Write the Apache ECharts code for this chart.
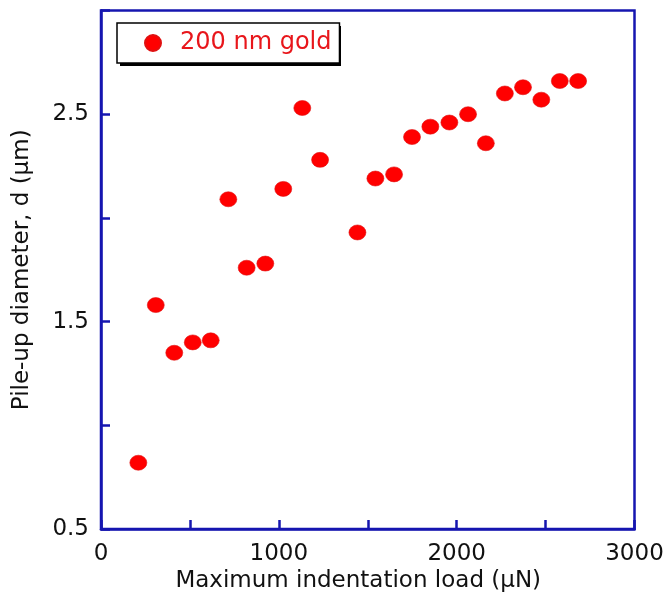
<!DOCTYPE html>
<html>
<head>
<meta charset="utf-8">
<script src="https://cdn.jsdelivr.net/npm/echarts@6/dist/echarts.min.js"></script>
<style>
  html, body { margin: 0; padding: 0; background: #fff; }
  #chart { width: 667px; height: 598px; }
</style>
</head>
<body>
<div id="chart"></div>
<script>
// Maximum indentation load (μN) for each indent
const loads = [210, 308, 412, 516, 617, 716, 819, 924, 1025, 1132, 1232,
               1442, 1543, 1648, 1749, 1852, 1959, 2064, 2164, 2271, 2373, 2476, 2580, 2683];
// Measured pile-up diameter d (μm)
const diameters = [0.82, 1.58, 1.35, 1.40, 1.41, 2.09, 1.76, 1.78, 2.14, 2.53, 2.28,
                   1.93, 2.19, 2.21, 2.39, 2.44, 2.46, 2.50, 2.36, 2.60, 2.63, 2.57, 2.66, 2.66];
const seriesName = '200 nm gold';
// Labelled ticks (other ticks drawn unlabelled)
const xLabelTicks = [0, 1000, 2000, 3000];
const yLabelTicks = [0.5, 1.5, 2.5];

const frameBlue = '#1616b0';
const fontFamily = '"DejaVu Sans", "Liberation Sans", Arial, sans-serif';

const points = loads.map((x, i) => [x, diameters[i]]);

const chart = echarts.init(document.getElementById('chart'), null, { renderer: 'canvas' });
chart.setOption({
  animation: false,
  backgroundColor: '#ffffff',
  grid: {
    left: 101, right: 32.5, top: 10.5, bottom: 68,
    show: true, borderColor: frameBlue, borderWidth: 2.5, backgroundColor: 'transparent'
  },
  // solid drop shadow behind the legend box
  graphic: [{
    type: 'rect', z: 3, silent: true,
    shape: { x: 120, y: 26, width: 221, height: 40 },
    style: { fill: '#000000' }
  }],
  legend: {
    left: 117, top: 23,
    orient: 'horizontal',
    padding: [8, 8, 8, 27],
    itemWidth: 16, itemHeight: 16,
    icon: 'circle',
    backgroundColor: '#ffffff',
    borderColor: '#000000', borderWidth: 1.5, borderRadius: 0,
    textStyle: { color: '#e8161b', fontSize: 24, fontFamily: fontFamily, padding: [0, 0, 0, 14] },
    data: [seriesName]
  },
  xAxis: {
    type: 'value', min: 0, max: 3000, interval: 500,
    name: 'Maximum indentation load (μN)',
    nameLocation: 'middle', nameGap: 40,
    nameTextStyle: { color: '#111', fontSize: 23, fontFamily: fontFamily, padding: [0, 19, 0, 0] },
    axisLine: { show: true, lineStyle: { color: frameBlue, width: 2.5 } },
    axisTick: { show: true, inside: true, length: 9, lineStyle: { color: frameBlue, width: 2.5 } },
    splitLine: { show: false },
    axisLabel: {
      color: '#111', fontSize: 23, fontFamily: fontFamily, margin: 13,
      formatter: v => xLabelTicks.some(t => Math.abs(t - v) < 1e-6) ? String(v) : ''
    }
  },
  yAxis: {
    type: 'value', min: 0.5, max: 3.0, interval: 0.5,
    name: 'Pile-up diameter, d (μm)',
    nameLocation: 'middle', nameGap: 67,
    nameTextStyle: { color: '#111', fontSize: 23, fontFamily: fontFamily },
    axisLine: { show: true, lineStyle: { color: frameBlue, width: 2.5 } },
    axisTick: { show: true, inside: true, length: 9, lineStyle: { color: frameBlue, width: 2.5 } },
    splitLine: { show: false },
    axisLabel: {
      color: '#111', fontSize: 23, fontFamily: fontFamily, margin: 12,
      formatter: v => yLabelTicks.some(t => Math.abs(t - v) < 1e-6) ? v.toFixed(1) : ''
    }
  },
  series: [{
    name: seriesName,
    type: 'scatter',
    data: points,
    symbol: 'circle',
    symbolSize: [17, 15],
    itemStyle: { color: '#ff0000', borderColor: '#e01010', borderWidth: 0.6, opacity: 1 }
  }]
});
</script>
</body>
</html>
